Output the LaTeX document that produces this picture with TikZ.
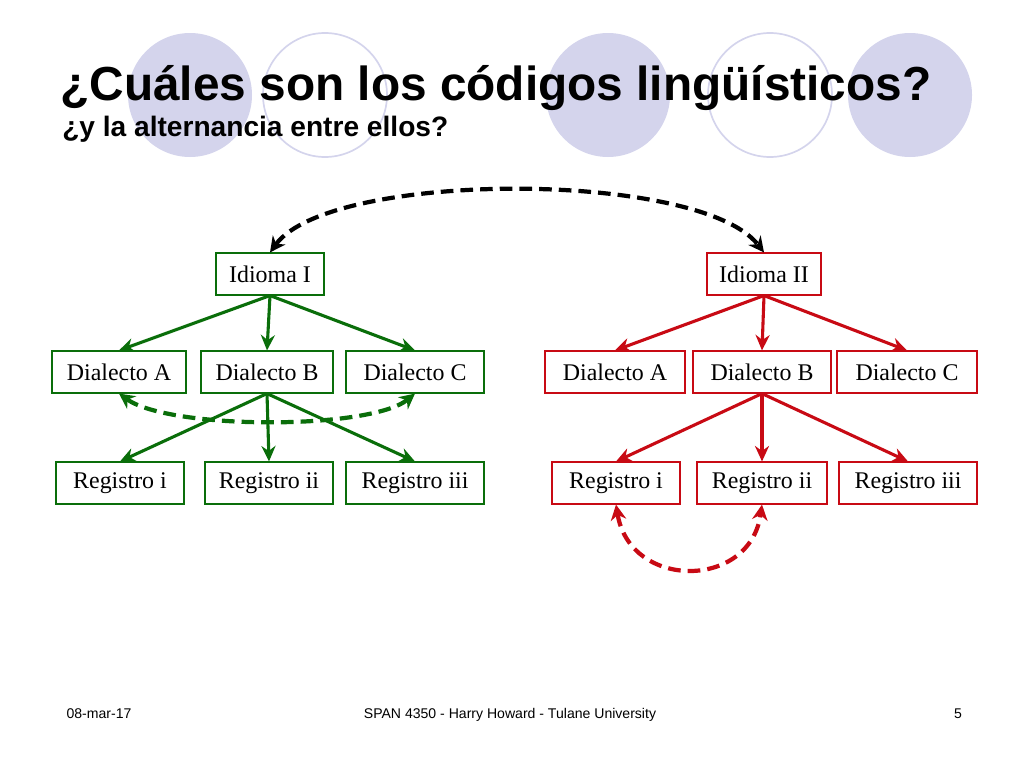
\documentclass[tikz,border=0pt]{standalone}
\usepackage{fontspec}
\setmainfont{Liberation Serif}
\setsansfont{Liberation Sans}
\usetikzlibrary{arrows.meta}
\definecolor{lav}{RGB}{212,212,236}
\definecolor{tree1}{RGB}{10,110,10}
\definecolor{tree2}{RGB}{200,10,20}
\tikzset{
  codebox/.style={draw, line width=0.8pt, minimum height=10.5mm, inner xsep=4pt, font=\fontsize{17}{19}\selectfont},
  branch/.style={line width=2.2pt, -{Stealth[length=11pt,width=10pt]}},
  swap/.style={line width=3pt, dash pattern=on 9pt off 5pt, {Stealth[length=11pt,width=11pt]}-{Stealth[length=11pt,width=11pt]}},
  foot/.style={anchor=base, font=\sffamily\fontsize{10}{12}\selectfont}
}
\begin{document}
\begin{tikzpicture}[x=0.25mm, y=-0.25mm]
\useasboundingbox (0,0) rectangle (1024,768);
% decoration circles
\fill[lav] (190,95) circle (62);
\draw[lav, line width=1.2pt] (325,95) circle (62);
\fill[lav] (608,95) circle (62);
\draw[lav, line width=1.2pt] (770,95) circle (62);
\fill[lav] (910,95) circle (62);
% title
\node[anchor=base west, inner sep=0, font=\sffamily\bfseries\fontsize{34}{38}\selectfont] (title) at (60,100) {¿Cuáles son los códigos lingüísticos?};
\node[anchor=base west, inner sep=0, font=\sffamily\bfseries\fontsize{20}{22}\selectfont] (subtitle) at (62,136) {¿y la alternancia entre ellos?};
% first language
\node[codebox, draw=tree1, minimum width=27mm] (i1) at (270,274) {Idioma I};
\node[codebox, draw=tree1, minimum width=33.5mm] (d1a) at (119,372) {Dialecto A};
\node[codebox, draw=tree1, minimum width=33mm] (d1b) at (267,372) {Dialecto B};
\node[codebox, draw=tree1, minimum width=34.5mm] (d1c) at (415,372) {Dialecto C};
\node[codebox, draw=tree1, minimum width=32mm] (r1a) at (120,483) {Registro i};
\node[codebox, draw=tree1, minimum width=32mm] (r1b) at (269,483) {Registro ii};
\node[codebox, draw=tree1, minimum width=34.5mm] (r1c) at (415,483) {Registro iii};
% second language
\node[codebox, draw=tree2, minimum width=28.5mm] (i2) at (764,274) {Idioma II};
\node[codebox, draw=tree2, minimum width=35mm] (d2a) at (615,372) {Dialecto A};
\node[codebox, draw=tree2, minimum width=34.5mm] (d2b) at (762,372) {Dialecto B};
\node[codebox, draw=tree2, minimum width=35mm] (d2c) at (907,372) {Dialecto C};
\node[codebox, draw=tree2, minimum width=32mm] (r2a) at (616,483) {Registro i};
\node[codebox, draw=tree2, minimum width=32.5mm] (r2b) at (762,483) {Registro ii};
\node[codebox, draw=tree2, minimum width=34.5mm] (r2c) at (908,483) {Registro iii};
% branches
\foreach \t in {d1a,d1b,d1c} \draw[branch, tree1] (i1.south) -- (\t.north);
\foreach \t in {r1a,r1b,r1c} \draw[branch, tree1] (d1b.south) -- (\t.north);
\foreach \t in {d2a,d2b,d2c} \draw[branch, tree2] (i2.south) -- (\t.north);
\foreach \t in {r2a,r2b,r2c} \draw[branch, tree2] (d2b.south) -- (\t.north);
% switching
\draw[swap, black] (i1.north) .. controls (330,170) and (700,170) .. (i2.north);
\draw[swap, tree1] (d1a.south) .. controls (170,430) and (370,430) .. (d1c.south);
\draw[swap, tree2] (r2a.south) .. controls (630,590) and (750,590) .. (r2b.south);
% footer
\node[foot] (date) at (99,718) {08-mar-17};
\node[foot] (course) at (510,718) {SPAN 4350 - Harry Howard - Tulane University};
\node[foot] (page) at (958,718) {5};
\end{tikzpicture}
\end{document}
